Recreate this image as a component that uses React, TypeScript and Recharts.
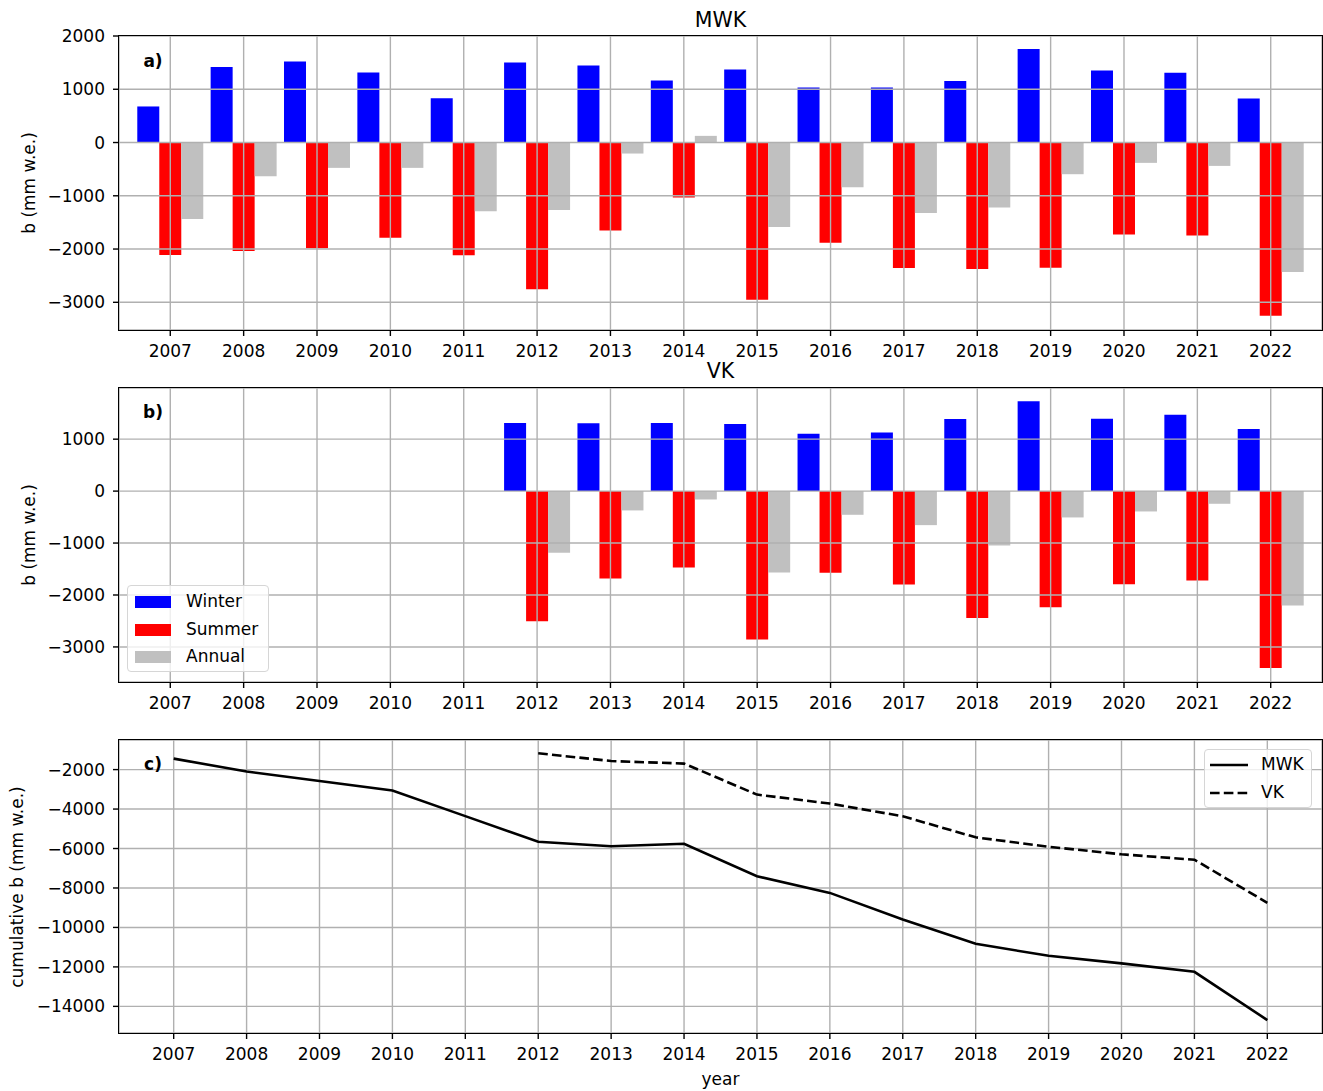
import React from "react";
import { Bar, BarChart, CartesianGrid, Line, LineChart, XAxis, YAxis } from "recharts";

// values (mm w.e.)
const years = [2007, 2008, 2009, 2010, 2011, 2012, 2013, 2014, 2015, 2016, 2017, 2018, 2019, 2020, 2021, 2022];

const mwkWinter = [677, 1416, 1523, 1316, 833, 1504, 1447, 1165, 1372, 1034, 1034, 1153, 1754, 1353, 1309, 827];
const mwkSummer = [-2111, -2036, -1986, -1786, -2118, -2757, -1654, -1034, -2951, -1880, -2356, -2375, -2350, -1729, -1748, -3252];
const mwkAnnual = [-1435, -633, -476, -476, -1291, -1266, -207, 125, -1585, -840, -1322, -1222, -595, -382, -439, -2431];

const vkWinter = [null, null, null, null, null, 1310, 1304, 1310, 1291, 1105, 1130, 1387, 1728, 1394, 1471, 1195];
const vkSummer = [null, null, null, null, null, -2505, -1683, -1471, -2858, -1574, -1798, -2441, -2235, -1792, -1721, -3404];
const vkAnnual = [null, null, null, null, null, -1188, -372, -161, -1567, -456, -655, -1047, -507, -392, -244, -2203];

const mwkCumulative = [-1443, -2101, -2577, -3063, -4359, -5661, -5884, -5762, -7406, -8249, -9597, -10830, -11438, -11823, -12248, -14694];
const vkCumulative = [null, null, null, null, null, -1174, -1565, -1696, -3266, -3722, -4365, -5433, -5909, -6294, -6567, -8749];

const ticksA = [-3000, -2000, -1000, 0, 1000, 2000];
const ticksB = [-3000, -2000, -1000, 0, 1000];
const ticksC = [-14000, -12000, -10000, -8000, -6000, -4000, -2000];

const FONT = '"DejaVu Sans", sans-serif';
const W = 1323;
const PL = 119;
const PR = 1322;
const GRID = "#b0b0b0";

const minus = (v: number) => String(v).replace("-", "\u2212");
const tickFont = { fontSize: 17, fill: "#000", fontFamily: FONT };

const mwkRows = years.map((y, i) => ({ year: String(y), winter: mwkWinter[i], summer: mwkSummer[i], annual: mwkAnnual[i] }));
const vkRows = years.map((y, i) => ({ year: String(y), winter: vkWinter[i], summer: vkSummer[i], annual: vkAnnual[i] }));
const cumRows = years.map((y, i) => ({ year: y, mwk: mwkCumulative[i], vk: vkCumulative[i] }));

function Frame({ top, bottom }: { top: number; bottom: number }) {
  return (
    <div
      style={{
        position: "absolute",
        left: PL - 0.7,
        top: top - 0.7,
        width: PR - PL + 1.4,
        height: bottom - top + 1.4,
        border: "1.4px solid #000",
        boxSizing: "border-box",
        pointerEvents: "none",
      }}
    />
  );
}

function Txt({ x, y, size = 17, bold = false, rotate = false, children }: any) {
  return (
    <div
      style={{
        position: "absolute",
        left: x,
        top: y,
        transform: `translate(-50%, -50%)${rotate ? " rotate(-90deg)" : ""}`,
        fontFamily: FONT,
        fontSize: size,
        fontWeight: bold ? "bold" : "normal",
        whiteSpace: "nowrap",
        lineHeight: 1,
        color: "#000",
      }}
    >
      {children}
    </div>
  );
}

function BarPanel({ rows, domain, ticks, top }: any) {
  return (
    <div style={{ position: "absolute", left: 0, top }}>
      <BarChart
        width={W}
        height={360}
        data={rows}
        margin={{ top: 36, right: W - PR, bottom: 0, left: 0 }}
        barCategoryGap={3.68}
        barGap={0}
      >
        <XAxis
          dataKey="year"
          interval={0}
          padding={{ left: 14.6, right: 14.6 }}
          height={30}
          tick={tickFont}
          tickSize={6}
          tickMargin={8.5}
          axisLine={false}
          stroke="#000"
          tickLine={{ stroke: "#000", strokeWidth: 1.4 }}
        />
        <YAxis
          type="number"
          width={PL}
          domain={domain}
          ticks={ticks}
          interval={0}
          allowDataOverflow
          tick={tickFont}
          tickSize={6}
          tickMargin={8}
          axisLine={false}
          stroke="#000"
          tickLine={{ stroke: "#000", strokeWidth: 1.4 }}
          tickFormatter={minus}
        />
        <Bar dataKey="winter" fill="#0000ff" isAnimationActive={false} />
        <Bar dataKey="summer" fill="#ff0000" isAnimationActive={false} />
        <Bar dataKey="annual" fill="#c0c0c0" isAnimationActive={false} />
        <CartesianGrid stroke={GRID} strokeWidth={1.4} zIndex={1000} />
      </BarChart>
    </div>
  );
}

function BarLegend() {
  const items = [
    { name: "Winter", color: "#0000ff" },
    { name: "Summer", color: "#ff0000" },
    { name: "Annual", color: "#c0c0c0" },
  ];
  return (
    <div
      style={{
        position: "absolute",
        left: 127,
        top: 585,
        width: 142,
        height: 87,
        border: "1.4px solid #d6d6d6",
        borderRadius: 4,
        background: "rgba(255,255,255,0.8)",
        boxSizing: "border-box",
      }}
    >
      {items.map((it, i) => (
        <div key={it.name} style={{ position: "absolute", left: 0, top: 16 + i * 27.5, width: "100%" }}>
          <div style={{ position: "absolute", left: 7, top: -6, width: 36, height: 12, background: it.color }} />
          <div style={{ position: "absolute", left: 58, top: -9, fontFamily: FONT, fontSize: 17, lineHeight: "17px", color: "#000" }}>
            {it.name}
          </div>
        </div>
      ))}
    </div>
  );
}

function LineLegend() {
  const items = [
    { name: "MWK", dash: false },
    { name: "VK", dash: true },
  ];
  return (
    <div
      style={{
        position: "absolute",
        left: 1204,
        top: 749,
        width: 108,
        height: 59,
        border: "1.4px solid #d6d6d6",
        borderRadius: 4,
        background: "rgba(255,255,255,0.8)",
        boxSizing: "border-box",
      }}
    >
      {items.map((it, i) => (
        <div key={it.name} style={{ position: "absolute", left: 0, top: 15 + i * 27.5, width: "100%" }}>
          <svg style={{ position: "absolute", left: 5, top: -3 }} width={40} height={6}>
            <line x1={0} x2={38} y1={3} y2={3} stroke="#000" strokeWidth={2.6} strokeDasharray={it.dash ? "9.6 4.2" : undefined} />
          </svg>
          <div style={{ position: "absolute", left: 56, top: -9, fontFamily: FONT, fontSize: 17, lineHeight: "17px", color: "#000" }}>
            {it.name}
          </div>
        </div>
      ))}
    </div>
  );
}

export default function App() {
  return (
    <div style={{ position: "relative", width: W, height: 1091, background: "#fff", overflow: "hidden" }}>
      <style>{`body{margin:0}`}</style>

      <BarPanel rows={mwkRows} domain={[-3520, 2000]} ticks={ticksA} top={0} />
      <Frame top={36} bottom={330} />
      <Txt x={720.5} y={19.5} size={20.5}>MWK</Txt>
      <Txt x={153} y={61} bold>a)</Txt>
      <Txt x={28.5} y={183} rotate>b (mm w.e.)</Txt>

      <BarPanel rows={vkRows} domain={[-3675, 1985]} ticks={ticksB} top={352} />
      <Frame top={388} bottom={682} />
      <Txt x={720.5} y={371} size={20.5}>VK</Txt>
      <Txt x={153} y={412} bold>b)</Txt>
      <Txt x={28.5} y={535} rotate>b (mm w.e.)</Txt>
      <BarLegend />

      <div style={{ position: "absolute", left: 0, top: 704 }}>
        <LineChart width={W} height={359} data={cumRows} margin={{ top: 36, right: W - PR, bottom: 0, left: 0 }}>
          <CartesianGrid stroke={GRID} strokeWidth={1.4} />
          <XAxis
            dataKey="year"
            type="number"
            domain={[2006.25, 2022.75]}
            ticks={years}
            interval={0}
            allowDataOverflow
            height={30}
            tick={tickFont}
            tickSize={6}
            tickMargin={8.5}
            axisLine={false}
            stroke="#000"
            tickLine={{ stroke: "#000", strokeWidth: 1.4 }}
          />
          <YAxis
            type="number"
            width={PL}
            domain={[-15350, -500]}
            ticks={ticksC}
            interval={0}
            allowDataOverflow
            tick={tickFont}
            tickSize={6}
            tickMargin={8}
            axisLine={false}
            stroke="#000"
            tickLine={{ stroke: "#000", strokeWidth: 1.4 }}
            tickFormatter={minus}
          />
          <Line dataKey="mwk" stroke="#000" strokeWidth={2.6} dot={false} isAnimationActive={false} />
          <Line dataKey="vk" stroke="#000" strokeWidth={2.6} strokeDasharray="9.6 4.2" dot={false} isAnimationActive={false} />
        </LineChart>
      </div>
      <Frame top={740} bottom={1033} />
      <Txt x={153} y={764} bold>c)</Txt>
      <Txt x={17} y={886.5} rotate>cumulative b (mm w.e.)</Txt>
      <Txt x={720.5} y={1079}>year</Txt>
      <LineLegend />
    </div>
  );
}
